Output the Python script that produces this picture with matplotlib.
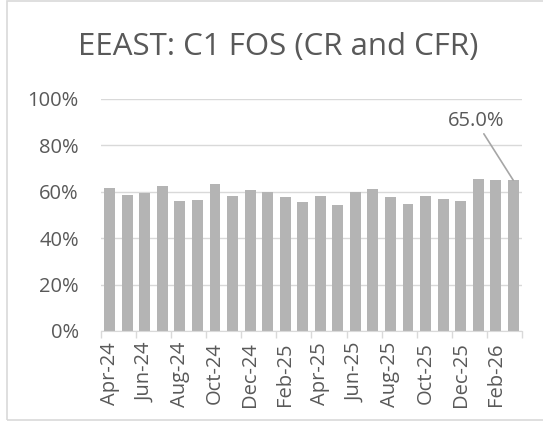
import matplotlib
matplotlib.use("Agg")
import matplotlib.pyplot as plt
from matplotlib.patches import Rectangle
from matplotlib.ticker import PercentFormatter

# monthly C1 FOS (CR and CFR) share, Apr-24 .. Mar-26
months = ["Apr-24", "May-24", "Jun-24", "Jul-24", "Aug-24", "Sep-24",
          "Oct-24", "Nov-24", "Dec-24", "Jan-25", "Feb-25", "Mar-25",
          "Apr-25", "May-25", "Jun-25", "Jul-25", "Aug-25", "Sep-25",
          "Oct-25", "Nov-25", "Dec-25", "Jan-26", "Feb-26", "Mar-26"]
values = [61.5, 58.5, 59.6, 62.4, 56.1, 56.6,
          63.2, 58.0, 60.9, 59.9, 57.9, 55.5,
          58.2, 54.3, 60.0, 61.1, 57.7, 54.6,
          58.0, 57.0, 56.0, 65.7, 65.3, 65.0]
y_ticks = [0, 20, 40, 60, 80, 100]

BAR = "#b4b4b4"
GRID = "#d9d9d9"
TEXT = "#595959"

plt.rcParams["font.family"] = ["Open Sans", "DejaVu Sans"]

W, H = 543, 425
fig = plt.figure(figsize=(W / 100, H / 100), dpi=100)

# chart area border (right edge runs off the picture)
fig.patches.append(Rectangle((7 / W, 5 / H), 540 / W, 419 / H, transform=fig.transFigure,
                             fill=False, edgecolor=GRID, linewidth=1.2))

ax = fig.add_axes([101 / W, (H - 331) / H, 421 / W, 232 / H])
x = range(len(values))
ax.bar(x, values, width=0.62, color=BAR, zorder=2)

ax.set_xlim(-0.5, len(values) - 0.5)
ax.set_ylim(0, 100)
ax.set_yticks(y_ticks)
ax.yaxis.set_major_formatter(PercentFormatter(decimals=0))
ax.grid(axis="y", color=GRID, linewidth=1, zorder=0)

# labels every other month, tick marks on category boundaries
ax.set_xticks(list(x)[::2])
ax.set_xticklabels(months[::2], rotation=90)
ax.set_xticks([i - 0.5 for i in range(0, len(values) + 1, 2)], minor=True)
ax.tick_params(axis="x", which="major", length=0, pad=8, labelsize=14.5, labelcolor=TEXT)
ax.tick_params(axis="x", which="minor", length=5, color=GRID, width=1)
ax.tick_params(axis="y", length=0, pad=16, labelsize=14.5, labelcolor=TEXT)

for s in ["top", "right", "left"]:
    ax.spines[s].set_visible(False)
ax.spines["bottom"].set_color(GRID)

# last value callout
ax.annotate(f"{values[-1]:.1f}%", xy=(len(values) - 1, values[-1]),
            xytext=(-27, 39), textcoords="offset points",
            ha="center", va="baseline", fontsize=14.5, color=TEXT,
            arrowprops=dict(arrowstyle="-", color="#a6a6a6", lw=1.2,
                            shrinkA=0, shrinkB=0))

fig.text(278 / W, 1 - 55 / H, "EEAST: C1 FOS (CR and CFR)", ha="center", va="baseline",
         fontsize=22.5, color=TEXT)

fig.savefig("out.png", dpi=100)
